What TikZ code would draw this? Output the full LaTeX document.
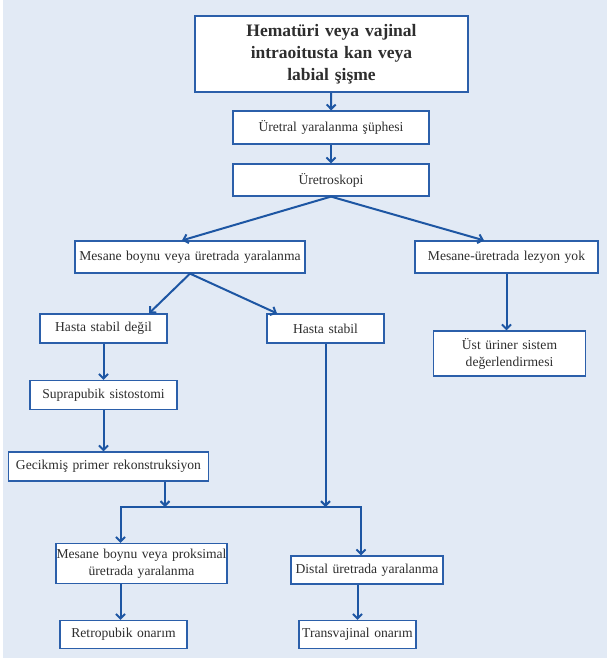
\documentclass[tikz,border=0pt]{standalone}
\usepackage{fontspec}
\setmainfont{Liberation Serif}
\usepackage{xcolor}
\usepackage{tikz}
\usetikzlibrary{arrows.meta}
\definecolor{urBlue}{HTML}{1D56A3}
\definecolor{urEdge}{HTML}{2B5FAA}
\definecolor{urBack}{HTML}{E2EAF5}
\definecolor{urText}{HTML}{2E2E2E}

\begin{document}
\begin{tikzpicture}[
  x=1pt, y=-1pt,
  lead/.style={draw=urEdge, line width=2pt, fill=white, text=urText, inner sep=0pt,
               font=\fontsize{17.5}{22}\selectfont\bfseries, align=center},
  box/.style={draw=urEdge, line width=1.2pt, fill=white, text=urText, inner sep=0pt,
              font=\fontsize{13.6}{17}\selectfont, align=center},
  flow/.style={-{Straight Barb[length=4.5pt,width=9pt]}, line width=2pt, draw=urBlue},
  fork/.style={{Straight Barb[length=4.5pt,width=9pt]}-{Straight Barb[length=4.5pt,width=9pt]},
               line width=2pt, draw=urBlue, line join=miter},
]

% ── Background ───────────────────────────────────────────────────────────────
\useasboundingbox (0,0) rectangle (607,658);
\fill[urBack] (3,0) rectangle (607,658);

% ── Boxes, top to bottom ─────────────────────────────────────────────────────
\node[lead, text width=273pt, minimum height=76pt] (hema) at (331.5,54)
  {Hematüri veya vajinal\\ intraoitusta kan veya\\ labial şişme};
\node[box, text width=196pt, minimum height=33pt] (suphe) at (331,127.5) {Üretral yaralanma şüphesi};
\node[box, text width=196pt, minimum height=32pt] (skopi) at (331,180) {Üretroskopi};

\node[box, text width=230pt, minimum height=32pt] (yaral) at (190,257) {Mesane boynu veya üretrada yaralanma};
\node[box, text width=183pt, minimum height=32pt] (lezyok) at (506.5,257) {Mesane-üretrada lezyon yok};

\node[box, text width=127pt, minimum height=29pt] (unstab) at (103.5,328.5) {Hasta stabil değil};
\node[box, text width=117pt, minimum height=29pt] (stab) at (325.5,328.5) {Hasta stabil};
\node[box, text width=152pt, minimum height=45pt] (ustur) at (509.5,353.5) {Üst üriner sistem\\ değerlendirmesi};

\node[box, text width=147pt, minimum height=29pt] (supra) at (103.5,395) {Suprapubik sistostomi};
\node[box, text width=200pt, minimum height=29pt] (gecik) at (108.5,466.5) {Gecikmiş primer rekonstruksiyon};

\node[box, text width=171pt, minimum height=40pt] (proks) at (141.5,563.5) {Mesane boynu veya proksimal\\ üretrada yaralanma};
\node[box, text width=152pt, minimum height=28pt] (distal) at (367,570) {Distal üretrada yaralanma};

\node[box, text width=127pt, minimum height=28pt] (retro) at (123.5,634.5) {Retropubik onarım};
\node[box, text width=117pt, minimum height=28pt] (transv) at (357.5,634.5) {Transvajinal onarım};

% ── Junction of the two lower branches ──────────────────────────────────────
\coordinate (jl) at (120.5,507);
\coordinate (jr) at (361,507);
\coordinate (inl) at (165,507);
\coordinate (inr) at (325.5,507);

% ── Connectors ──────────────────────────────────────────────────────────────
\draw[flow] (hema) -- (suphe);
\draw[flow] (suphe) -- (skopi);
\draw[flow] (skopi.south) -- ([xshift=-8pt]yaral.north);
\draw[flow] (skopi.south) -- ([xshift=-22.5pt]lezyok.north);
\draw[flow] (yaral.south) -- ([xshift=45.5pt]unstab.north);
\draw[flow] (yaral.south) -- ([xshift=-48.5pt]stab.north);
\draw[flow] (lezyok.south) -- (lezyok.south |- ustur.north);
\draw[flow] (unstab.south) -- (supra.north);
\draw[flow] (supra.south) -- (supra.south |- gecik.north);
\draw[flow] (inl |- gecik.south) -- (inl);
\draw[flow] (stab.south) -- (inr);
\draw[fork] (jl |- proks.north) |- (jr) -- (jr |- distal.north);
\draw[flow] (jl |- proks.south) -- (jl |- retro.north);
\draw[flow] (transv.north |- distal.south) -- (transv.north);

\end{tikzpicture}
\end{document}
